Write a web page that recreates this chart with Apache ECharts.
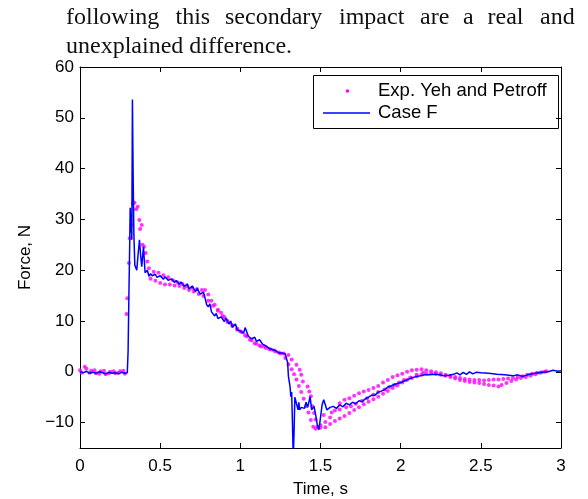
<!DOCTYPE html>
<html>
<head>
<meta charset="utf-8">
<script src="https://cdn.jsdelivr.net/npm/echarts@6/dist/echarts.min.js"></script>
<style>
  html, body { margin: 0; padding: 0; background: #fff; }
  #chart { width: 588px; height: 499px; }
</style>
</head>
<body>
<div id="chart"></div>
<script>
// Axis ticks
const timeTicks = [0, 0.5, 1, 1.5, 2, 2.5, 3];
const forceTicks = [-10, 0, 10, 20, 30, 40, 50, 60];

// Series names
const expName = 'Exp. Yeh and Petroff';
const caseName = 'Case F';

// Experimental samples [time s, force N], three recorded runs
const expRunA = [
  [0.00, 0.3], [0.03, 1.0], [0.06, -0.2], [0.09, 0.3], [0.12, -0.4], [0.15, 0.2], [0.18, -0.3],
  [0.21, 0.1], [0.24, -0.2], [0.27, 0.2], [0.29, 11.4], [0.31, 26.3], [0.33, 33.2], [0.35, 32.0],
  [0.37, 29.9], [0.39, 25.0], [0.41, 23.4], [0.43, 20.4], [0.46, 19.7], [0.49, 19.5], [0.52, 19.0],
  [0.55, 18.6], [0.58, 18.0], [0.61, 17.6], [0.64, 17.3], [0.67, 16.8], [0.70, 16.5], [0.73, 16.3],
  [0.76, 16.1], [0.78, 16.1], [0.80, 15.2], [0.82, 14.0], [0.84, 13.2], [0.86, 12.2], [0.88, 11.6],
  [0.90, 10.8], [0.92, 10.0], [0.95, 9.2], [0.98, 8.5], [1.00, 8.0], [1.03, 7.2], [1.06, 6.3],
  [1.09, 5.6], [1.12, 5.2], [1.15, 5.0], [1.18, 4.5], [1.21, 4.2], [1.24, 3.8], [1.27, 3.6],
  [1.30, 3.3], [1.32, 2.4], [1.35, 1.4], [1.37, 0.4], [1.38, -0.6], [1.39, -1.9], [1.42, -2.9],
  [1.43, -3.9], [1.44, -4.8], [1.45, -6.8], [1.46, -8.1], [1.47, -9.4], [1.48, -10.8], [1.50, -11.0],
  [1.53, -10.9], [1.56, -10.3], [1.59, -9.7], [1.62, -9.2], [1.65, -8.7], [1.68, -8.1], [1.71, -7.5],
  [1.74, -7.0], [1.77, -6.4], [1.80, -5.9], [1.83, -5.4], [1.86, -4.9], [1.89, -4.3], [1.92, -3.8],
  [1.95, -3.2], [1.98, -2.7], [2.01, -2.1], [2.04, -1.6], [2.07, -1.2], [2.10, -0.9], [2.13, -0.6],
  [2.16, -0.4], [2.19, -0.3], [2.22, -0.4], [2.25, -0.6], [2.28, -0.8], [2.31, -1.0], [2.34, -1.3],
  [2.37, -1.6], [2.40, -1.8], [2.43, -2.0], [2.46, -2.1], [2.49, -2.2], [2.52, -2.4], [2.55, -2.6],
  [2.58, -2.7], [2.61, -2.9], [2.63, -2.6], [2.66, -2.2], [2.69, -1.8], [2.72, -1.5], [2.75, -1.2],
  [2.78, -1.0], [2.81, -0.8], [2.84, -0.5], [2.87, -0.2], [2.90, 0.0]
];
const expRunB = [
  [0.01, -0.2], [0.04, 0.6], [0.07, 0.2], [0.10, -0.3], [0.13, 0.1], [0.16, -0.5], [0.19, 0.0],
  [0.22, -0.3], [0.25, 0.1], [0.28, -0.4], [0.295, 14.5], [0.305, 21.4], [0.32, 28.9], [0.34, 33.3],
  [0.36, 32.5], [0.375, 28.1], [0.385, 28.9], [0.40, 24.6], [0.42, 21.7], [0.44, 18.3], [0.47, 17.9],
  [0.50, 17.5], [0.53, 17.2], [0.56, 17.2], [0.59, 17.0], [0.62, 16.9], [0.65, 16.5], [0.68, 16.1],
  [0.71, 15.8], [0.74, 15.3], [0.77, 14.9], [0.80, 14.0], [0.83, 13.0], [0.86, 12.0], [0.89, 11.0],
  [0.92, 9.8], [0.95, 9.0], [0.98, 8.3], [1.01, 7.8], [1.04, 7.0], [1.07, 6.2], [1.10, 5.5],
  [1.13, 5.0], [1.16, 4.7], [1.19, 4.4], [1.22, 4.0], [1.25, 3.6], [1.28, 2.7], [1.30, 1.5],
  [1.32, 0.5], [1.335, -0.5], [1.35, -1.5], [1.365, -2.8], [1.38, -4.0], [1.395, -5.3], [1.41, -6.8],
  [1.425, -8.0], [1.44, -9.5], [1.455, -10.8], [1.47, -11.2], [1.50, -10.5], [1.53, -9.9], [1.56, -9.0],
  [1.59, -7.6], [1.62, -6.2], [1.65, -5.5], [1.68, -5.2], [1.71, -4.7], [1.74, -4.2], [1.77, -3.9],
  [1.80, -3.6], [1.83, -3.2], [1.86, -2.8], [1.89, -2.1], [1.92, -1.6], [1.95, -1.0], [1.98, -0.7],
  [2.01, -0.4], [2.04, 0.0], [2.07, 0.3], [2.10, 0.4], [2.13, 0.5], [2.16, 0.3], [2.19, 0.1],
  [2.22, -0.1], [2.25, -0.3], [2.28, -0.6], [2.31, -0.8], [2.34, -1.0], [2.37, -1.2], [2.40, -1.4],
  [2.43, -1.5], [2.46, -1.6], [2.49, -1.6], [2.52, -1.7], [2.55, -1.6], [2.58, -1.5], [2.61, -1.5],
  [2.64, -1.4], [2.67, -1.3], [2.70, -1.2], [2.73, -1.0], [2.76, -0.9], [2.79, -0.6], [2.82, -0.4],
  [2.85, -0.2], [2.88, -0.1], [2.91, 0.1]
];
const expRunC = [
  [1.52, -8.5], [1.57, -8.0], [1.62, -7.4], [1.66, -7.0], [1.69, -6.8], [1.72, -6.3], [1.76, -5.7],
  [1.79, -5.2], [1.83, -4.5], [1.86, -4.0], [1.90, -3.5], [1.93, -3.0], [1.96, -2.6], [1.99, -2.1],
  [2.02, -1.6], [2.06, -1.1], [2.10, -0.6], [2.14, -0.2]
];

// Simulated contact force, Case F [time s, force N]
const caseF = [
  [0.00, 0.0], [0.02, -0.2], [0.04, 0.1], [0.06, -0.3], [0.08, -0.1], [0.10, -0.3], [0.12, 0.0],
  [0.14, -0.2], [0.16, -0.4], [0.18, -0.1], [0.20, -0.3], [0.22, -0.2], [0.24, -0.4], [0.26, -0.1],
  [0.28, -0.3], [0.295, -0.2], [0.30, 4], [0.305, 15], [0.31, 25], [0.313, 32.3], [0.317, 27.4],
  [0.320, 31], [0.323, 26], [0.327, 53.6], [0.331, 40], [0.336, 27], [0.342, 21], [0.354, 20.0],
  [0.362, 23], [0.371, 26.0], [0.378, 23], [0.385, 20.7], [0.396, 24.6], [0.406, 19.5], [0.41, 19.5],
  [0.42, 20.0], [0.43, 18.8], [0.44, 19.3], [0.45, 18.9], [0.47, 19.2], [0.48, 18.6], [0.50, 18.9],
  [0.52, 18.2], [0.53, 18.7], [0.55, 18.0], [0.57, 18.3], [0.59, 17.6], [0.60, 18.0], [0.62, 17.2],
  [0.63, 17.7], [0.65, 16.8], [0.67, 17.3], [0.68, 16.3], [0.70, 16.9], [0.72, 15.8], [0.73, 16.4],
  [0.75, 15.3], [0.77, 15.7], [0.78, 14.5], [0.79, 13.2], [0.80, 12.8], [0.81, 13.4], [0.82, 11.8],
  [0.84, 11.0], [0.85, 11.5], [0.86, 10.5], [0.88, 10.8], [0.90, 9.9], [0.91, 10.6], [0.93, 9.4],
  [0.94, 10.0], [0.95, 8.8], [0.97, 9.4], [0.98, 8.3], [1.00, 8.0], [1.02, 7.6], [1.03, 8.7],
  [1.05, 7.0], [1.07, 6.5], [1.09, 6.8], [1.10, 6.0], [1.12, 6.3], [1.14, 5.4], [1.16, 5.1],
  [1.18, 4.6], [1.20, 4.4], [1.22, 4.2], [1.24, 3.7], [1.26, 3.7], [1.28, 3.5], [1.29, 3.4],
  [1.295, 1.8], [1.30, -0.9], [1.31, -2.9], [1.315, -4.9], [1.32, -4.0], [1.325, -10], [1.33, -17],
  [1.335, -12], [1.34, -5], [1.35, -4.9], [1.36, -7.5], [1.365, -6], [1.37, -7.5], [1.38, -7.0],
  [1.39, -6.8], [1.40, -7.2], [1.41, -6.0], [1.42, -7.0], [1.435, -4.9], [1.445, -7.5], [1.46, -6.8],
  [1.47, -8.5], [1.48, -10.5], [1.49, -11.4], [1.50, -9], [1.51, -6.5], [1.52, -5.5], [1.53, -6.5],
  [1.54, -7.5], [1.56, -7.0], [1.58, -6.8], [1.60, -7.2], [1.62, -6.5], [1.64, -6.9], [1.66, -6.2],
  [1.68, -6.5], [1.70, -6.0], [1.72, -6.3], [1.74, -5.7], [1.76, -5.9], [1.78, -5.3], [1.80, -5.0],
  [1.82, -4.6], [1.84, -4.6], [1.86, -4.0], [1.88, -3.8], [1.90, -3.5], [1.92, -3.0], [1.94, -2.8],
  [1.96, -2.5], [1.98, -2.3], [2.00, -2.1], [2.03, -1.7], [2.06, -1.3], [2.09, -1.0], [2.12, -0.8],
  [2.15, -0.6], [2.18, -0.6], [2.21, -0.5], [2.24, -0.6], [2.27, -0.8], [2.30, -0.7], [2.33, -0.5],
  [2.35, -0.2], [2.37, -0.6], [2.39, -0.1], [2.41, -0.5], [2.43, 0.0], [2.45, -0.4], [2.47, -0.1],
  [2.50, -0.2], [2.55, -0.3], [2.60, -0.5], [2.65, -0.6], [2.70, -0.8], [2.73, -0.6], [2.76, -0.9],
  [2.80, -0.5], [2.84, -0.3], [2.88, -0.1], [2.92, 0.0], [2.95, 0.3], [2.98, 0.1], [3.00, 0.2]
];

// Running text above the figure
const bodyLine1 = ['following', 'this', 'secondary', 'impact', 'are', 'a', 'real', 'and'];
const bodyLine2 = 'unexplained difference.';

const chart = echarts.init(document.getElementById('chart'), null, { renderer: 'canvas' });

const sans = 'Liberation Sans, Arial, Helvetica, sans-serif';
const serif = 'Liberation Serif, Times New Roman, serif';
const minus = v => (v < 0 ? '\u2212' + Math.abs(v) : String(v));

const wordX = [66, 175.5, 225, 339, 420, 463, 487.5, 540];
const bodyText = bodyLine1.map((w, i) => ({
  type: 'text', left: wordX[i], top: 6,
  style: { text: w, font: '24px ' + serif, fill: '#111' }
}));
bodyText.push({
  type: 'text', left: 66, top: 35,
  style: { text: bodyLine2, font: '24px ' + serif, fill: '#111' }
});

// Boxed legend in the upper-right corner of the axes
const legendGroup = {
  type: 'group', left: 313, top: 75,
  children: [
    { type: 'rect', shape: { x: 0.5, y: 0.5, width: 245, height: 53 },
      style: { fill: '#fff', stroke: '#000', lineWidth: 1 } },
    { type: 'circle', shape: { cx: 34.5, cy: 16, r: 1.8 }, style: { fill: '#ff00ff' } },
    { type: 'text', x: 65, y: 16,
      style: { text: expName, font: '18.5px ' + sans, fill: '#000', verticalAlign: 'middle' } },
    { type: 'line', shape: { x1: 10, y1: 38, x2: 57, y2: 38 },
      style: { stroke: '#0000ff', lineWidth: 1.3 } },
    { type: 'text', x: 65, y: 38,
      style: { text: caseName, font: '18.5px ' + sans, fill: '#000', verticalAlign: 'middle' } }
  ]
};

const tickStyle = { show: true, inside: true, length: 5, lineStyle: { color: '#000', width: 1 } };
const lineStyle = { show: true, onZero: false, lineStyle: { color: '#000', width: 1 } };

chart.setOption({
  animation: false,
  backgroundColor: '#fff',
  grid: { left: 80, right: 27, top: 67, bottom: 51, containLabel: false, outerBoundsMode: 'none' },
  xAxis: [
    {
      type: 'value', min: 0, max: 3, interval: 0.5, position: 'bottom',
      axisLine: lineStyle, axisTick: tickStyle, splitLine: { show: false },
      axisLabel: { color: '#000', fontSize: 17, fontFamily: sans, margin: 10 },
      name: 'Time, s', nameLocation: 'middle', nameGap: 33,
      nameTextStyle: { color: '#000', fontSize: 17, fontFamily: sans }
    },
    {
      type: 'value', min: 0, max: 3, interval: 0.5, position: 'top',
      axisLine: lineStyle, axisTick: tickStyle, splitLine: { show: false },
      axisLabel: { show: false }
    }
  ],
  yAxis: [
    {
      type: 'value', min: -15, max: 60, position: 'left',
      axisLine: lineStyle,
      axisTick: Object.assign({}, tickStyle, { customValues: forceTicks }),
      axisLabel: { color: '#000', fontSize: 17, fontFamily: sans, margin: 6,
                   customValues: forceTicks, formatter: minus },
      splitLine: { show: false },
      name: 'Force, N', nameLocation: 'middle', nameRotate: 90, nameGap: 46,
      nameTextStyle: { color: '#000', fontSize: 17, fontFamily: sans }
    },
    {
      type: 'value', min: -15, max: 60, position: 'right',
      axisLine: lineStyle,
      axisTick: Object.assign({}, tickStyle, { customValues: forceTicks }),
      axisLabel: { show: false }, splitLine: { show: false }
    }
  ],
  series: [
    {
      name: expName, type: 'scatter', xAxisIndex: 0, yAxisIndex: 0,
      data: expRunA.concat(expRunB, expRunC),
      symbol: 'circle', symbolSize: 4,
      itemStyle: { color: '#ff00ff' }, silent: true
    },
    {
      name: caseName, type: 'line', xAxisIndex: 0, yAxisIndex: 0,
      data: caseF, showSymbol: false, symbol: 'none', clip: true,
      lineStyle: { color: '#0000ff', width: 1.5 }, silent: true
    }
  ],
  graphic: bodyText.concat([legendGroup])
});
</script>
</body>
</html>
